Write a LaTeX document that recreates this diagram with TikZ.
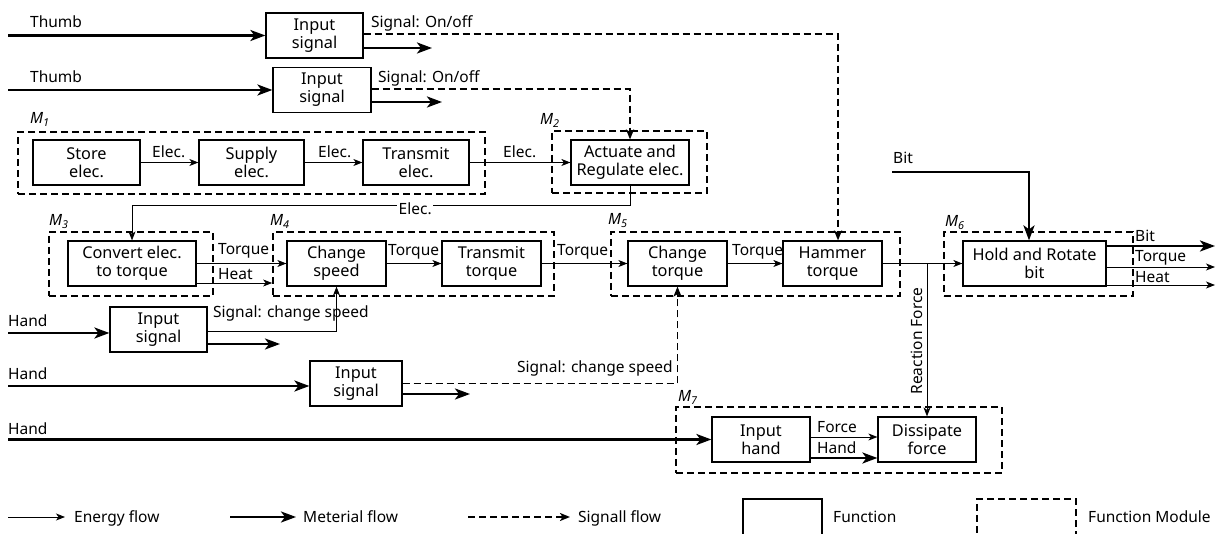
\documentclass[tikz,border=0pt]{standalone}
\usepackage{fontspec}
\setmainfont{Noto Sans}
\usetikzlibrary{arrows.meta}
\begin{document}
\begin{tikzpicture}[x=1pt,y=-1pt,
  font=\fontsize{15.5pt}{17.5pt}\selectfont,
  fn/.style={draw, line width=1.2pt, align=center, inner sep=0pt, minimum height=45pt, font=\fontsize{16.3pt}{17.8pt}\selectfont},
  mod/.style={draw, line width=1.7pt, dash pattern=on 7pt off 4pt, inner sep=0pt},
  en/.style={line width=0.9pt, -{Stealth[length=9pt,width=7pt,inset=2.5pt]}},
  mat/.style={line width=2.6pt, -{Stealth[length=15pt,width=11pt,inset=4pt]}},
  sig/.style={line width=1.8pt, dash pattern=on 7pt off 4pt, -{Stealth[length=10pt,width=8pt,inset=2.5pt]}},
  lab/.style={inner sep=0pt, anchor=base west},
  mlab/.style={inner sep=0pt, anchor=base west, font=\fontsize{15.5pt}{17.5pt}\selectfont\itshape}
]
\useasboundingbox (0,0) rectangle (1219,534);
\clip (0,0) rectangle (1219,534);

% function boxes and modules
\node[fn, minimum width=97pt] (in1) at (314.5,35.5) {Input\\signal};
\node[fn, minimum width=98pt] (in2) at (322,90) {Input\\signal};
\node[mod, minimum width=467pt, minimum height=62pt] (m1) at (251.5,163) {};
\node[fn, minimum width=107pt] (store) at (86.5,162.5) {Store\\elec.};
\node[fn, minimum width=105pt] (supply) at (251.5,162.5) {Supply\\elec.};
\node[fn, minimum width=106pt] (trans) at (416,162.5) {Transmit\\elec.};
\node[mod, minimum width=155pt, minimum height=62pt] (m2) at (629.5,162) {};
\node[fn, minimum width=118pt] (act) at (630,162.5) {Actuate and\\Regulate elec.};
\node[mod, minimum width=164pt, minimum height=64pt] (m3) at (131,264) {};
\node[fn, minimum width=128pt] (conv) at (132,263.5) {Convert elec.\\to torque};
\node[mod, minimum width=281pt, minimum height=64pt] (m4) at (413.5,264) {};
\node[fn, minimum width=99pt] (cs) at (336.5,263.5) {Change\\speed};
\node[fn, minimum width=99pt] (tt) at (491.5,263.5) {Transmit\\torque};
\node[mod, minimum width=289pt, minimum height=64pt] (m5) at (755.5,264) {};
\node[fn, minimum width=99pt] (ct) at (677.5,263.5) {Change\\torque};
\node[fn, minimum width=99pt] (ham) at (832.5,263.5) {Hammer\\torque};
\node[mod, minimum width=189pt, minimum height=64pt] (m6) at (1038.5,264) {};
\node[fn, minimum width=143pt] (hold) at (1034.5,263.5) {Hold and Rotate\\bit};
\node[fn, minimum width=97pt] (hb1) at (158.5,329.5) {Input\\signal};
\node[fn, minimum width=92pt] (hb2) at (356,383.5) {Input\\signal};
\node[mod, minimum width=326pt, minimum height=66pt] (m7) at (839,440) {};
\node[fn, minimum width=98pt] (ih) at (761,439.5) {Input\\hand};
\node[fn, minimum width=98pt] (dis) at (927,439.5) {Dissipate\\force};

% module labels
\node[mlab] (lm1) at (30,124) {M\textsubscript{1}};
\node[mlab] (lm2) at (540,125) {M\textsubscript{2}};
\node[mlab] (lm3) at (49,226) {M\textsubscript{3}};
\node[mlab] (lm4) at (270,226) {M\textsubscript{4}};
\node[mlab] (lm5) at (608,225) {M\textsubscript{5}};
\node[mlab] (lm6) at (945,227) {M\textsubscript{6}};
\node[mlab] (lm7) at (678,402) {M\textsubscript{7}};

% thumb rows
\coordinate (t1) at (8,35.5);
\coordinate (t2) at (8,90);
\draw[mat] (t1) -- (in1.west);
\draw[mat] (t2) -- (in2.west);
\node[lab] (lt1) at (30,28) {Thumb};
\node[lab] (lt2) at (30,83) {Thumb};
\draw[sig] ([yshift=1.5pt]in1.east) -| ([xshift=5.5pt]ham.north);
\coordinate (o1) at (432,48);
\draw[mat] (o1 -| in1.east) -- (o1);
\draw[sig] ([yshift=1pt]in2.east) -| (act.north);
\coordinate (o2) at (442,102);
\draw[mat] (o2 -| in2.east) -- (o2);
\node[lab] (ls1) at (371,28) {Signal: On/off};
\node[lab] (ls2) at (378,83) {Signal: On/off};

% M1 / M2
\draw[en] (store) -- (supply);
\draw[en] (supply) -- (trans);
\draw[en] (trans) -- (act);
\node[lab] (le1) at (152,158) {Elec.};
\node[lab] (le2) at (318,158) {Elec.};
\node[lab] (le3) at (503,158) {Elec.};
\draw[en] (act.south) -- ++(0,20) -| (conv.north);
\node[lab, fill=white, inner xsep=1.5pt, inner ysep=2pt] (le4) at (397,215) {Elec.};

% middle row
\draw[en] (conv.east) -- (cs.west);
\coordinate (hh) at ([yshift=-19.5pt]conv.east);
\draw[en] (hh) -- (hh -| m4.west);
\node[lab] (lq1) at (218,255) {Torque};
\node[lab] (lhe) at (218,280) {Heat};
\draw[en] (cs) -- (tt);
\draw[en] (tt) -- (ct);
\draw[en] (ct) -- (ham);
\draw[en] (ham) -- (hold);
\node[lab] (lq2) at (388,256) {Torque};
\node[lab] (lq3) at (557,256) {Torque};
\node[lab] (lq4) at (732,256) {Torque};
\draw[en] (dis.north |- ham.east) -- (dis.north);
\node[inner sep=0pt, anchor=base, rotate=90] (lrf) at (922,341) {Reaction Force};

% bit
\coordinate (bi) at (892,172);
\draw[mat] (bi) -| ([xshift=-5.5pt]hold.north);
\node[lab] (lbit) at (893,164) {Bit};
\coordinate (ob) at (1215,246);
\coordinate (ot) at (1215,267);
\coordinate (oh) at (1215,285);
\draw[mat] (ob -| hold.east) -- (ob);
\draw[en] (ot -| hold.east) -- (ot);
\draw[en] (oh -| hold.east) -- (oh);
\node[lab] (lob) at (1135,242) {Bit};
\node[lab] (lot) at (1135,262) {Torque};
\node[lab] (loh) at (1135,283) {Heat};

% hand rows
\coordinate (h1) at (8,333);
\draw[mat] (h1) -- (h1 -| hb1.west);
\node[lab] (lh1) at (8,327) {Hand};
\draw[en] ([yshift=-1.5pt]hb1.east) -| (cs.south);
\coordinate (o3) at (280,344);
\draw[mat] (o3 -| hb1.east) -- (o3);
\node[lab] (lsc1) at (213,318) {Signal: change speed};

\coordinate (h2) at (8,386);
\draw[mat] (h2) -- (h2 -| hb2.west);
\node[lab] (lh2) at (8,380) {Hand};
\draw[sig] (hb2.east) -| (ct.south);
\coordinate (o4) at (470,394);
\draw[mat] (o4 -| hb2.east) -- (o4);
\node[lab] (lsc2) at (517,373) {Signal: change speed};

\coordinate (h3) at (8,439.5);
\draw[mat] (h3) -- (ih.west);
\node[lab] (lh3) at (8,435) {Hand};
\coordinate (f1) at ([yshift=2.5pt]ih.east);
\draw[en] (f1) -- (f1 -| dis.west);
\coordinate (f2) at ([yshift=-18.5pt]ih.east);
\draw[mat] (f2) -- (f2 -| dis.west);
\node[lab] (lf1) at (817,433) {Force};
\node[lab] (lf2) at (817,454) {Hand};

% legend
\coordinate (g1) at (8,517); \coordinate (g2) at (65,517);
\draw[en] (g1) -- (g2);
\node[lab] (lg1) at (74,522) {Energy flow};
\coordinate (g3) at (230,517); \coordinate (g4) at (296,517);
\draw[mat] (g3) -- (g4);
\node[lab] (lg2) at (303,522) {Meterial flow};
\coordinate (g5) at (468,517); \coordinate (g6) at (570,517);
\draw[sig] (g5) -- (g6);
\node[lab] (lg3) at (578,522) {Signall flow};
\node[draw, line width=1.2pt, minimum width=79pt, minimum height=50pt, inner sep=0pt] (lfb) at (782.5,524) {};
\node[lab] (lg4) at (833,522) {Function};
\node[mod, minimum width=99pt, minimum height=50pt] (lmb) at (1026.5,524) {};
\node[lab] (lg5) at (1088,522) {Function Module};
\end{tikzpicture}
\end{document}
